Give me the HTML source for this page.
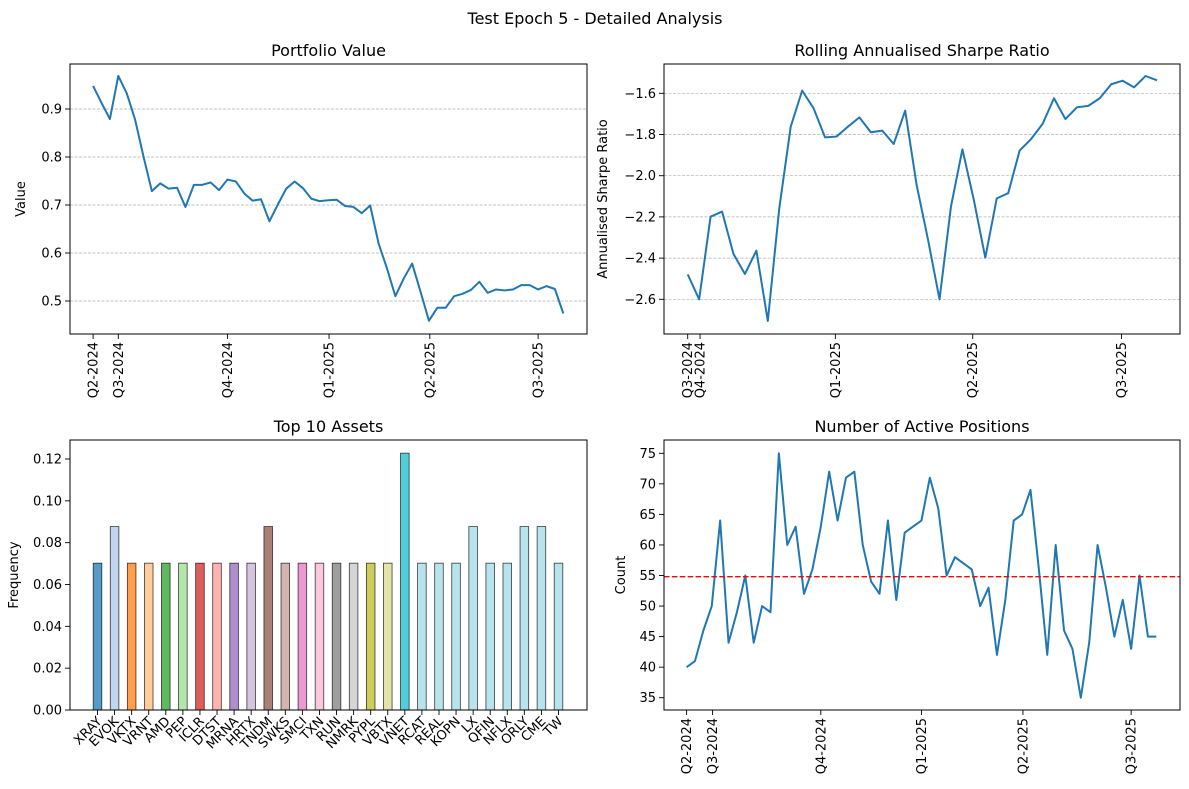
<!DOCTYPE html>
<html><head><meta charset="utf-8">
<style>
body{margin:0;background:#fff;}
svg{display:block;font-family:"DejaVu Sans","Liberation Sans",sans-serif;}
</style></head>
<body>
<svg id="fig" width="1189" height="789" viewBox="0 0 1189 789" xmlns="http://www.w3.org/2000/svg">
<rect width="1189" height="789" fill="#fff"/>
<text x="595" y="24" font-size="16" text-anchor="middle">Test Epoch 5 - Detailed Analysis</text>
</svg>
<script>
const pvValues=[0.948,0.913,0.879,0.969,0.933,0.878,0.801,0.729,0.745,0.734,0.736,0.696,0.742,0.742,0.747,0.731,0.753,0.749,0.724,0.709,0.712,0.666,0.701,0.734,0.749,0.735,0.713,0.708,0.710,0.711,0.698,0.696,0.683,0.699,0.620,0.568,0.510,0.547,0.578,0.519,0.459,0.486,0.486,0.510,0.515,0.523,0.540,0.517,0.524,0.522,0.524,0.533,0.533,0.524,0.531,0.525,0.474];
const pvTickPos=[0,3,16,28.1,40.1,53.0];
const pvTickLabels=["Q2-2024","Q3-2024","Q4-2024","Q1-2025","Q2-2025","Q3-2025"];
const pvYTicks=[0.5,0.6,0.7,0.8,0.9];

const shValues=[-2.479,-2.600,-2.199,-2.174,-2.380,-2.477,-2.364,-2.705,-2.158,-1.762,-1.587,-1.673,-1.814,-1.810,-1.762,-1.717,-1.789,-1.781,-1.846,-1.684,-2.045,-2.312,-2.600,-2.150,-1.872,-2.118,-2.398,-2.110,-2.085,-1.878,-1.822,-1.749,-1.624,-1.725,-1.668,-1.661,-1.624,-1.556,-1.539,-1.571,-1.516,-1.537];
const shTickPos=[0,1.08,12.9,24.9,37.9];
const shTickLabels=["Q3-2024","Q4-2024","Q1-2025","Q2-2025","Q3-2025"];
const shYTicks=[-2.6,-2.4,-2.2,-2.0,-1.8,-1.6];

const assetNames=["XRAY","EVOK","VKTX","VRNT","AMD","PEP","ICLR","DTST","MRNA","HRTX","TNDM","SWKS","SMCI","TXN","RUN","NMRK","PYPL","VBTX","VNET","RCAT","REAL","KOPN","LX","QFIN","NFLX","ORLY","CME","TW"];
const assetFreq=[0.0702,0.0877,0.0702,0.0702,0.0702,0.0702,0.0702,0.0702,0.0702,0.0702,0.0877,0.0702,0.0702,0.0702,0.0702,0.0702,0.0702,0.0702,0.1228,0.0702,0.0702,0.0702,0.0877,0.0702,0.0702,0.0877,0.0877,0.0702];
const assetColors=["#1f77b4","#aec7e8","#ff7f0e","#ffbb78","#2ca02c","#98df8a","#d62728","#ff9896","#9467bd","#c5b0d5","#8c564b","#c49c94","#e377c2","#f7b6d2","#7f7f7f","#c7c7c7","#bcbd22","#dbdb8d","#17becf","#9edae5","#9edae5","#9edae5","#9edae5","#9edae5","#9edae5","#9edae5","#9edae5","#9edae5"];
const freqYTicks=[0,0.02,0.04,0.06,0.08,0.10,0.12];

const posValues=[40,41,46,50,64,44,49,55,44,50,49,75,60,63,52,56,63,72,64,71,72,60,54,52,64,51,62,63,64,71,66,55,58,57,56,50,53,42,51,64,65,69,56,42,60,46,43,35,44,60,53,45,51,43,55,45,45];
const posMean=[54.8];
const posTickPos=[0,3.1,16,28,40.1,53];
const posTickLabels=["Q2-2024","Q3-2024","Q4-2024","Q1-2025","Q2-2025","Q3-2025"];
const posYTicks=[35,40,45,50,55,60,65,70,75];

const NS="http://www.w3.org/2000/svg";
const fig=document.getElementById('fig');
function el(tag,attrs,parent){const e=document.createElementNS(NS,tag);for(const k in attrs)e.setAttribute(k,attrs[k]);(parent||fig).appendChild(e);return e;}
function lin(d0,d1,r0,r1){return v=>r0+(v-d0)*(r1-r0)/(d1-d0);}
function fmtMinus(s){return s.replace('-','\u2212');}

function axes(name,box,title,ylabel,ylabelX,yTicks,yScale,yFmt,grid){
  const g=el('g',{});
  
  
  if(grid){yTicks.forEach(v=>{const y=yScale(v);
    const l=el('line',{x1:box.x0,x2:box.x1,y1:y,y2:y,stroke:'#b0b0b0','stroke-width':0.7,'stroke-dasharray':'3,1.5'},g);
    
    });}
  yTicks.forEach(v=>{const y=yScale(v);
    el('line',{x1:box.x0-5,x2:box.x0,y1:y,y2:y,stroke:'#000','stroke-width':0.9},g);
    const t=el('text',{x:box.x0-8,y:y+4.5,'font-size':13,'text-anchor':'end'},g);
    t.textContent=fmtMinus(yFmt(v));
    
    });
  const tt=el('text',{x:(box.x0+box.x1)/2,y:box.y0-8,'font-size':16,'text-anchor':'middle'},g);
  tt.textContent=title;
  
  
  const cy=(box.y0+box.y1)/2;
  const yl=el('text',{x:ylabelX,y:cy,'font-size':13,'text-anchor':'middle',transform:`rotate(-90 ${ylabelX} ${cy})`},g);
  yl.textContent=ylabel;
  
  
  return g;
}
function frame(g,box){
  const r=el('rect',{x:box.x0,y:box.y0,width:box.x1-box.x0,height:box.y1-box.y0,fill:'none',stroke:'#000','stroke-width':1},g);
  
  
}
function dateTicks(g,box,pos,labels,xs){
  pos.forEach((p,i)=>{const x=xs(p);
    el('line',{x1:x,x2:x,y1:box.y1,y2:box.y1+5,stroke:'#000','stroke-width':0.9},g);
    const ty=box.y1+8;
    const t=el('text',{x:x+4.5,y:ty,'font-size':13,'text-anchor':'end',transform:`rotate(-90 ${x+4.5} ${ty})`},g);
    t.textContent=labels[i];
    
    });
}
function line(g,vals,xs,ys,name){
  const d=vals.map((v,i)=>(i?'L':'M')+xs(i).toFixed(2)+','+ys(v).toFixed(2)).join('');
  const p=el('path',{d:d,fill:'none',stroke:'#1f77b4','stroke-width':2,'stroke-linejoin':'round'},g);
  
  
}

// Portfolio value
{const box={x0:70,x1:587,y0:64,y1:334};
 const ys=lin(0.5,0.9,301,109);const xs=lin(0,56,93.1,563.3);
 const g=axes('portfolio-value-chart',box,'Portfolio Value','Value',25,pvYTicks,ys,v=>v.toFixed(1),true);
 line(g,pvValues,xs,ys,'portfolio-value-line');
 dateTicks(g,box,pvTickPos,pvTickLabels,xs);frame(g,box);}

// Sharpe
{const box={x0:664,x1:1180,y0:64,y1:334};
 const ys=lin(-2.6,-1.6,299.3,93.3);const xs=lin(0,41,687.7,1157);
 const g=axes('sharpe-ratio-chart',box,'Rolling Annualised Sharpe Ratio','Annualised Sharpe Ratio',607,shYTicks,ys,v=>v.toFixed(1),true);
 line(g,shValues,xs,ys,'sharpe-ratio-line');
 dateTicks(g,box,shTickPos,shTickLabels,xs);frame(g,box);}

// Top assets
{const box={x0:70,x1:587,y0:440,y1:710};
 const ys=lin(0,0.12,710,459);const xs=lin(0,27,97.5,558.5);
 const g=axes('top-assets-chart',box,'Top 10 Assets','Frequency',18,freqYTicks,ys,v=>v.toFixed(2),false);
 assetFreq.forEach((v,i)=>{const x=xs(i);
   const b=el('rect',{x:x-4.3,y:ys(v),width:8.6,height:ys(0)-ys(v),fill:assetColors[i],'fill-opacity':0.75,stroke:'#000','stroke-opacity':0.75,'stroke-width':0.8},g);
   
   
   el('line',{x1:x,x2:x,y1:box.y1,y2:box.y1+5,stroke:'#000','stroke-width':0.9},g);
   const tx=x+5,ty=box.y1+12;
   const t=el('text',{x:tx,y:ty,'font-size':13,'text-anchor':'end',transform:`rotate(-45 ${tx} ${ty})`},g);
   t.textContent=assetNames[i];
   
   });
 frame(g,box);}

// Active positions
{const box={x0:664,x1:1180,y0:440,y1:710};
 const ys=lin(35,75,697.7,453.3);const xs=lin(0,56,686.6,1156.3);
 const g=axes('active-positions-chart',box,'Number of Active Positions','Count',625,posYTicks,ys,v=>String(v),false);
 line(g,posValues,xs,ys,'active-positions-line');
 const m=el('line',{x1:box.x0,x2:box.x1,y1:ys(posMean[0]),y2:ys(posMean[0]),stroke:'#ff0000','stroke-width':1.4,'stroke-dasharray':'5.5,2.4'},g);
 
 
 dateTicks(g,box,posTickPos,posTickLabels,xs);frame(g,box);}
</script>
</body></html>
